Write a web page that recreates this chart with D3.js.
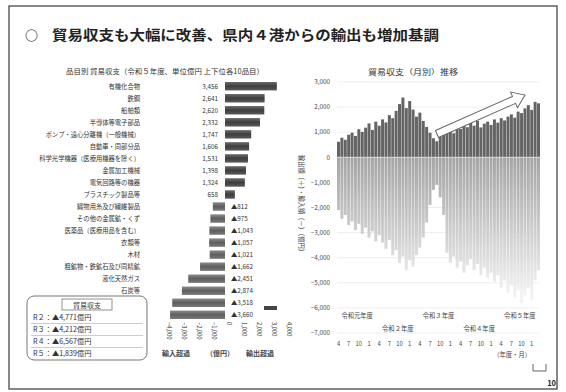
<!DOCTYPE html>
<html><head><meta charset="utf-8">
<script src="https://cdn.jsdelivr.net/npm/d3@7"></script>
<style>
html,body{margin:0;padding:0;background:#fff;}
svg{display:block;font-family:"Noto Sans CJK JP","Noto Sans",sans-serif;}
</style></head><body>
<svg id="c" width="566" height="392"></svg>
<script>
// ---- data ----
const headline = "貿易収支も大幅に改善、県内４港からの輸出も増加基調";

const itemTitle = "品目別 貿易収支（令和５年度、単位億円 上下位各10品目）";
const itemNames = [
  "有機化合物", "鉄鋼", "船舶類", "半導体等電子部品",
  "ポンプ・遠心分離機（一般機械）", "自動車・同部分品",
  "科学光学機器（医療用機器を除く）", "金属加工機械", "電気回路等の機器",
  "プラスチック製品等",
  "織物用糸及び繊維製品", "その他の金属鉱・くず", "医薬品（医療用品を含む）",
  "衣類等", "木材", "粗鉱物・鉄鉱石及び同精鉱", "液化天然ガス", "石炭等",
  "液化石油ガス", "原油・粗油"
];
const itemValues = [
  3456, 2641, 2620, 2332, 1747, 1606, 1531, 1398, 1324, 658,
  -812, -975, -1043, -1057, -1021, -1662, -2451, -2874, -3518, -3660
];
const itemTicks = [-4000, -3000, -2000, -1000, 0, 1000, 2000, 3000, 4000];
const balanceHeader = "貿易収支";
const balanceLines = ["R２：▲4,771億円", "R３：▲4,212億円", "R４：▲6,567億円", "R５：▲1,839億円"];
const itemFooter = ["輸入超過", "（億円）", "輸出超過"];

const monthlyTitle = "貿易収支（月別）推移";
const fiscalYears = ["令和元年度", "令和２年度", "令和３年度", "令和４年度", "令和５年度"];
const monthTicks = ["4", "7", "10", "1"];
const valueTicks = [3000, 2000, 1000, 0, -1000, -2000, -3000, -4000, -5000, -6000, -7000];
const exportsMonthly = [
  620, 780, 700, 900,
  980, 850, 1120, 1010,
  1180, 1350, 1090, 1420, 1260,
  1510, 1390, 1680, 1560,
  1850, 2120, 2380, 1960, 2240,
  1900, 1620, 1780, 1450,
  1210, 980, 760,
  640, 820, 900,
  1050, 1180, 960, 1240, 1130, 1310, 1200,
  1380, 1260, 1450, 1190, 1340, 1420,
  1290, 1510, 1380, 1560, 1470, 1620,
  1710, 1580, 1820, 1760,
  1950, 2080, 1890, 2210, 2150
];
const importsMonthly = [
  -2100, -2450, -2300, -2700, -2550, -2900, -2650, -3050, -2800, -3200, -2950, -3350, -3100,
  -3400, -3650, -3300, -3900, -3700, -4200, -3950, -4500, -4100, -4350, -3900, -3600, -3200,
  -2600, -1900, -1300, -1100, -1600, -2300,
  -3800, -4200, -3950, -4400, -4150, -4600, -4300, -4050, -4500, -4250, -4700, -4400, -4800,
  -4600, -4950, -4700, -5200, -4900, -5400, -5100, -5600, -5300, -5800, -5500, -5200, -5700, -4900, -4500
];

// ---- drawing ----
const svg = d3.select("#c");
const ink = "#333";
const fmt = d3.format(",");

// slide frame
svg.append("rect").attr("x", 9).attr("y", 6).attr("width", 548).attr("height", 383)
  .attr("fill", "#fff").attr("stroke", "#555").attr("stroke-width", 1.4);

// headline
svg.append("text").attr("x", 25).attr("y", 40).attr("font-size", 13).attr("font-weight", 700)
  .attr("fill", "#222").text("○");
svg.append("text").attr("x", 52).attr("y", 40).attr("font-size", 13.5).attr("font-weight", 700)
  .attr("fill", "#222").attr("textLength", 387).attr("lengthAdjust", "spacingAndGlyphs").text(headline);

// ===== left: items =====
const L = svg.append("g");
L.append("text").attr("x", 66).attr("y", 74).attr("font-size", 7).attr("fill", ink)
  .attr("textLength", 198).attr("lengthAdjust", "spacingAndGlyphs").text(itemTitle);

const xs = d3.scaleLinear().domain([-4000, 4000]).range([165, 285]);
const ys = d3.scaleBand().domain(itemNames).range([82, 319]).paddingInner(0.3);

const grad = svg.append("defs");
const gb = grad.append("linearGradient").attr("id", "barGrad").attr("x1", 0).attr("x2", 0).attr("y1", 0).attr("y2", 1);
gb.append("stop").attr("offset", 0).attr("stop-color", "#6a6a6a");
gb.append("stop").attr("offset", 0.5).attr("stop-color", "#3e3e3e");
gb.append("stop").attr("offset", 1).attr("stop-color", "#5a5a5a");
const gn = grad.append("linearGradient").attr("id", "negGrad").attr("x1", 0).attr("x2", 0).attr("y1", 0).attr("y2", 1);
gn.append("stop").attr("offset", 0).attr("stop-color", "#8a8a8a");
gn.append("stop").attr("offset", 0.5).attr("stop-color", "#5e5e5e");
gn.append("stop").attr("offset", 1).attr("stop-color", "#7a7a7a");

L.selectAll("rect.item").data(itemNames).join("rect").attr("class", "item")
  .attr("x", (d, i) => Math.min(xs(0), xs(itemValues[i])))
  .attr("width", (d, i) => Math.abs(xs(itemValues[i]) - xs(0)))
  .attr("y", d => ys(d)).attr("height", ys.bandwidth())
  .attr("fill", (d, i) => itemValues[i] >= 0 ? "url(#barGrad)" : "url(#negGrad)");

L.selectAll("text.name").data(itemNames).join("text").attr("class", "name")
  .attr("x", 140).attr("y", d => ys(d) + ys.bandwidth() / 2 + 2.3)
  .attr("text-anchor", "end").attr("font-size", 6.3).attr("fill", ink).text(d => d);

L.selectAll("text.val").data(itemValues).join("text").attr("class", "val")
  .attr("x", v => v >= 0 ? xs(0) - 7 : xs(0) + 6)
  .attr("y", (v, i) => ys(itemNames[i]) + ys.bandwidth() / 2 + 2.3)
  .attr("text-anchor", v => v >= 0 ? "end" : "start")
  .attr("font-size", 6.3).attr("fill", ink)
  .text(v => v >= 0 ? fmt(v) : "▲" + fmt(-v));

// rotated scale labels under the bars
L.selectAll("text.tick").data(itemTicks).join("text").attr("class", "tick")
  .attr("transform", t => `translate(${xs(t) + 2},322) rotate(90)`)
  .attr("font-size", 5.8).attr("fill", ink).text(t => t === 0 ? "0" : fmt(t));

L.append("rect").attr("x", 264).attr("y", 306).attr("width", 13).attr("height", 4).attr("fill", "#444");

L.selectAll("text.foot").data(itemFooter).join("text").attr("class", "foot")
  .attr("x", (d, i) => [162, 206, 246][i]).attr("y", 356)
  .attr("font-size", 7).attr("font-weight", 700).attr("fill", "#444").text(d => d);

// balance summary box
const B = L.append("g");
B.append("rect").attr("x", 27).attr("y", 296).attr("width", 120).attr("height", 64).attr("rx", 7)
  .attr("fill", "#fff").attr("stroke", "#777").attr("stroke-width", 1);
B.append("rect").attr("x", 62).attr("y", 299).attr("width", 50).attr("height", 11)
  .attr("fill", "#fff").attr("stroke", "#777").attr("stroke-width", 0.8);
B.append("text").attr("x", 87).attr("y", 307.6).attr("text-anchor", "middle")
  .attr("font-size", 7).attr("fill", ink).text(balanceHeader);
B.selectAll("line.sep").data(balanceLines.slice(1)).join("line").attr("class", "sep")
  .attr("x1", 31).attr("x2", 143).attr("y1", (d, i) => 323.5 + i * 12).attr("y2", (d, i) => 323.5 + i * 12)
  .attr("stroke", "#aaa").attr("stroke-width", 0.6);
B.selectAll("text.bl").data(balanceLines).join("text").attr("class", "bl")
  .attr("x", 33).attr("y", (d, i) => 320 + i * 12)
  .attr("font-size", 7.2).attr("fill", ink).text(d => d);

// ===== right: monthly =====
const R = svg.append("g");
R.append("text").attr("x", 368).attr("y", 75).attr("font-size", 7.5).attr("fill", ink)
  .attr("textLength", 90).attr("lengthAdjust", "spacingAndGlyphs").text(monthlyTitle);

const xr = d3.scaleBand().domain(d3.range(exportsMonthly.length)).range([337, 540]).paddingInner(0.12);
const yr = d3.scaleLinear().domain([-7000, 3000]).range([333, 82]);

const ng = grad.append("linearGradient").attr("id", "impGrad").attr("gradientUnits", "userSpaceOnUse")
  .attr("x1", 0).attr("x2", 0).attr("y1", yr(0)).attr("y2", yr(-5500));
ng.append("stop").attr("offset", 0).attr("stop-color", "#a4a4a4");
ng.append("stop").attr("offset", 1).attr("stop-color", "#f3f3f3");

R.selectAll("line.grid").data(valueTicks).join("line").attr("class", "grid")
  .attr("x1", 337).attr("x2", 540).attr("y1", d => yr(d)).attr("y2", d => yr(d))
  .attr("stroke", "#e6e6e6").attr("stroke-width", 0.7);

R.selectAll("text.yt").data(valueTicks).join("text").attr("class", "yt")
  .attr("x", 330).attr("y", d => yr(d) + 2.2).attr("text-anchor", "end")
  .attr("font-size", 6.3).attr("fill", "#444").text(d => fmt(d));

R.append("text").attr("transform", "translate(299,205) rotate(90)").attr("text-anchor", "middle")
  .attr("font-size", 7).attr("fill", "#444").attr("textLength", 100).attr("lengthAdjust", "spacingAndGlyphs")
  .text("輸出額（＋）・輸入額（－）（億円）");

R.selectAll("rect.imp").data(importsMonthly).join("rect").attr("class", "imp")
  .attr("x", (d, i) => xr(i)).attr("width", xr.bandwidth())
  .attr("y", yr(0)).attr("height", d => yr(d) - yr(0)).attr("fill", "url(#impGrad)");

R.selectAll("rect.exp").data(exportsMonthly).join("rect").attr("class", "exp")
  .attr("x", (d, i) => xr(i)).attr("width", xr.bandwidth())
  .attr("y", d => yr(d)).attr("height", d => yr(0) - yr(d)).attr("fill", "#646464");

R.append("line").attr("x1", 337).attr("x2", 540).attr("y1", yr(0)).attr("y2", yr(0))
  .attr("stroke", "#ddd").attr("stroke-width", 1);

// rising-trend arrow
const ax0 = 437, ay0 = 134, ax1 = 525, ay1 = 95;
const ang = Math.atan2(ay1 - ay0, ax1 - ax0) * 180 / Math.PI;
const len = Math.hypot(ax1 - ax0, ay1 - ay0);
const sh = 3.8, hh = 8.5, hl = 12;
R.append("polygon")
  .attr("points", [[0, -sh], [len - hl, -sh], [len - hl, -hh], [len, 0], [len - hl, hh], [len - hl, sh], [0, sh]].join(" "))
  .attr("transform", `translate(${ax0},${ay0}) rotate(${ang})`)
  .attr("fill", "#fff").attr("stroke", "#666").attr("stroke-width", 1);

// x labels
const perYear = 12;
const yearCenter = i => (xr(i * perYear) + xr(i * perYear + perYear - 1) + xr.bandwidth()) / 2;
R.selectAll("text.fy").data(fiscalYears).join("text").attr("class", "fy")
  .attr("x", (d, i) => yearCenter(i)).attr("y", (d, i) => i % 2 === 0 ? 318 : 331)
  .attr("text-anchor", "middle").attr("font-size", 6.3).attr("fill", "#444").text(d => d);
R.selectAll("text.mt").data(d3.range(0, exportsMonthly.length, 3)).join("text").attr("class", "mt")
  .attr("x", i => xr(i) + xr.bandwidth() / 2).attr("y", 346)
  .attr("text-anchor", "middle").attr("font-size", 5.8).attr("fill", "#444")
  .text(i => monthTicks[(i / 3) % 4]);
R.append("text").attr("x", 531).attr("y", 357).attr("text-anchor", "end")
  .attr("font-size", 6.3).attr("fill", "#444").text("（年度・月）");
R.append("path").attr("d", "M533,364 V371 H546 V364").attr("fill", "none").attr("stroke", "#555").attr("stroke-width", 0.9);

// page number
svg.append("text").attr("x", 556).attr("y", 386).attr("text-anchor", "end")
  .attr("font-size", 7.5).attr("font-weight", 700).attr("fill", "#222").text("10");
</script>
</body></html>
